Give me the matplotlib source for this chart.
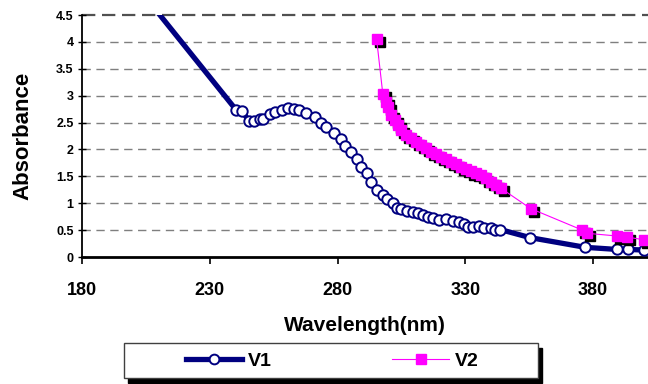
import matplotlib
matplotlib.use("Agg")
import matplotlib.pyplot as plt
import matplotlib.transforms as mtransforms
from matplotlib.patches import Rectangle
from matplotlib.lines import Line2D

plt.rcParams['font.family'] = ['Liberation Sans', 'DejaVu Sans']
plt.rcParams['font.weight'] = 'bold'

# V1 data (wavelength nm, absorbance)
v1_x = [200, 240.4, 242.8, 245.4, 247.2, 249.5, 250.8, 253.4, 255.6, 258.4, 260.6,
        262.8, 264.8, 267.8, 271.0, 273.6, 275.6, 278.6, 281.4, 283.0, 285.3,
        287.5, 289.2, 291.6, 293.2, 295.3, 297.7, 299.3, 301.6, 303.2, 304.9,
        307.1, 309.4, 311.4, 313.3, 315.3, 317.2, 319.8, 322.5, 325.0, 327.4,
        329.6, 330.9, 333.1, 335.5, 337.4, 340.0, 341.7, 343.7, 355.4, 376.9,
        389.5, 393.8, 400.0]
v1_y = [5.12, 2.73, 2.71, 2.52, 2.52, 2.56, 2.57, 2.65, 2.69, 2.73, 2.77,
        2.75, 2.73, 2.67, 2.60, 2.49, 2.42, 2.31, 2.19, 2.07, 1.96,
        1.82, 1.67, 1.56, 1.40, 1.25, 1.15, 1.07, 1.00, 0.92, 0.89,
        0.86, 0.84, 0.81, 0.78, 0.75, 0.72, 0.69, 0.70, 0.67, 0.66,
        0.61, 0.56, 0.56, 0.58, 0.54, 0.54, 0.51, 0.51, 0.36, 0.18,
        0.14, 0.14, 0.13]

# V2 data
v2_x = [295.3, 297.7, 298.8, 299.7, 301.0, 302.3, 303.6, 304.9, 306.8, 308.8,
        310.7, 312.7, 314.6, 316.6, 318.5, 320.5, 322.5, 324.4, 326.4, 328.3,
        330.2, 332.2, 334.2, 336.1, 338.1, 340.0, 342.0, 343.9, 355.6, 375.8,
        377.8, 389.5, 393.4, 400.0]
v2_y = [4.05, 3.04, 2.89, 2.79, 2.64, 2.55, 2.45, 2.36, 2.27, 2.21,
        2.14, 2.08, 2.02, 1.96, 1.91, 1.86, 1.82, 1.77, 1.73, 1.68,
        1.64, 1.59, 1.56, 1.52, 1.46, 1.40, 1.34, 1.28, 0.90, 0.50,
        0.44, 0.39, 0.37, 0.32]

x_ticks = [180, 230, 280, 330, 380]
y_ticks = [0, 0.5, 1, 1.5, 2, 2.5, 3, 3.5, 4, 4.5]
y_tick_labels = ['0', '0.5', '1', '1.5', '2', '2.5', '3', '3.5', '4', '4.5']

fig = plt.figure(figsize=(6.48, 3.84), dpi=100)
ax = fig.add_axes([82/648, 1 - 257/384, 1 - 82/648, (257 - 15)/384])

navy = '#000080'
magenta = '#ff00ff'

# grid
for yv in y_ticks[1:-1]:
    ax.axhline(yv, color='#7f7f7f', lw=1.0, ls=(0, (6, 4)), zorder=0)
ax.axhline(4.5, color='#505050', lw=1.6, ls=(0, (6, 3)), zorder=0, clip_on=False)

# V1
ax.plot(v1_x, v1_y, color=navy, lw=3.8, marker='o', ms=7.5, mfc='white',
        mec=navy, mew=1.4, zorder=3)

# V2 shadow
shadow = mtransforms.ScaledTranslation(2.2/72, -2.2/72, fig.dpi_scale_trans)
ax.plot(v2_x, v2_y, ls='none', marker='s', ms=7.5, mfc='black', mec='black',
        transform=ax.transData + shadow, zorder=4)
ax.plot(v2_x, v2_y, color=magenta, lw=0.8, marker='s', ms=7.5, mfc=magenta,
        mec=magenta, zorder=5)

ax.set_xlim(180, 401.5)
ax.set_ylim(0, 4.5)
ax.set_xticks(x_ticks)
ax.set_yticks(y_ticks)
ax.set_yticklabels(y_tick_labels)
ax.tick_params(axis='x', direction='out', length=5, width=1.2, labelsize=13, pad=13)
ax.tick_params(axis='y', direction='inout', length=6, width=1.0, labelsize=9, pad=3)
for lbl in ax.get_xticklabels() + ax.get_yticklabels():
    lbl.set_fontweight('bold')

for s in ['top', 'right']:
    ax.spines[s].set_visible(False)
ax.spines['left'].set_linewidth(1.3)
ax.spines['bottom'].set_linewidth(2.0)

ax.set_xlabel('Wavelength(nm)', fontsize=15, fontweight='bold', labelpad=12)
ax.set_ylabel('Absorbance', fontsize=16, fontweight='bold', labelpad=16)

# legend box with shadow
bx, by, bw, bh = 124/648, 1 - 378/384, 414/648, 35/384
fig.patches.append(Rectangle((bx + 4/648, by - 5/384), bw, bh, transform=fig.transFigure,
                             facecolor='black', edgecolor='black', zorder=1))
fig.patches.append(Rectangle((bx, by), bw, bh, transform=fig.transFigure,
                             facecolor='white', edgecolor='#404040', lw=1.0, zorder=2))
h1 = Line2D([], [], color=navy, lw=3.8, marker='o', ms=7, mfc='white', mec=navy, mew=1.4)
h2 = Line2D([], [], color=magenta, lw=0.8, marker='s', ms=7, mfc=magenta, mec=magenta)
leg = fig.legend([h1, h2], ['V1', 'V2'], loc='center', ncol=2, frameon=False,
                 bbox_to_anchor=(332/648, 1 - 361/384), prop={'size': 14, 'weight': 'bold'},
                 handlelength=2.9, handletextpad=0.3, columnspacing=6.2)
leg.set_zorder(5)

fig.savefig('out.png', dpi=100)
